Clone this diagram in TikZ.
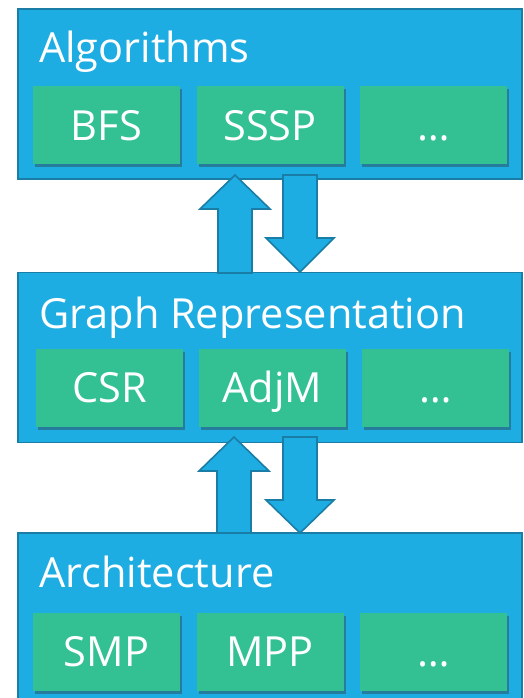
\documentclass[tikz,border=0pt]{standalone}
\usepackage{fontspec}
\setmainfont{Open Sans}
\usetikzlibrary{shadows}

\definecolor{layerblue}{HTML}{1EADE3}
\definecolor{layeredge}{HTML}{1A7DA5}
\definecolor{itemgreen}{HTML}{33C194}

\tikzset{
  layer/.style={draw=layeredge,fill=layerblue,line width=1.8pt,minimum width=504pt,minimum height=170pt,inner sep=0pt},
  title/.style={anchor=base west,text=white,font=\fontsize{41.5}{44}\selectfont,inner sep=0pt},
  item/.style={fill=itemgreen,text=white,minimum width=147pt,minimum height=78pt,inner sep=0pt,
    text height=30pt,text depth=0pt,font=\fontsize{41.5}{44}\selectfont,
    drop shadow={shadow xshift=2pt,shadow yshift=-3pt,opacity=0.4,fill=black!80}},
  blockarrow/.style={draw=layeredge,fill=layerblue,line width=1.6pt,line join=miter}
}

\begin{document}
\begin{tikzpicture}[x=1pt,y=-1pt]
\useasboundingbox (0,0) rectangle (524,698);
\clip (0,0) rectangle (524,698);

% layers
\node[layer] (alg) at (270,94) {};
\node[layer] (rep) at (270,357.5) {};
\node[layer] (arch) at (270,618) {};

% titles
\node[title] (algtitle) at (39,63) {Algorithms};
\node[title] (reptitle) at (39,328) {Graph Representation};
\node[title] (archtitle) at (39,587) {Architecture};

% items of the algorithms layer
\node[item] (bfs) at (106.5,125) {BFS};
\node[item] (sssp) at (270,125) {SSSP};
\node[item] (algmore) at (433.5,125) {\dots};

% items of the representation layer
\node[item] (csr) at (109.5,387.5) {CSR};
\node[item] (adjm) at (272.5,387.5) {AdjM};
\node[item] (repmore) at (435.5,387.5) {\dots};

% items of the architecture layer
\node[item] (smp) at (106.5,651.5) {SMP};
\node[item] (mpp) at (270,651.5) {MPP};
\node[item] (archmore) at (433.5,651.5) {\dots};

% arrows between algorithms and representation
\draw[blockarrow] (218,273) -- (218,209) -- (200,209) -- (235,175) -- (270,209)
  -- (252,209) -- (252,273) -- cycle;
\draw[blockarrow] (283,175) -- (283,238) -- (266,238) -- (300,272) -- (334,238)
  -- (317,238) -- (317,175) -- cycle;

% arrows between representation and architecture
\draw[blockarrow] (217,533) -- (217,471) -- (199,471) -- (234,437) -- (269,471)
  -- (251,471) -- (251,533) -- cycle;
\draw[blockarrow] (283,437) -- (283,500) -- (266,500) -- (300,533) -- (334,500)
  -- (317,500) -- (317,437) -- cycle;

\end{tikzpicture}
\end{document}
